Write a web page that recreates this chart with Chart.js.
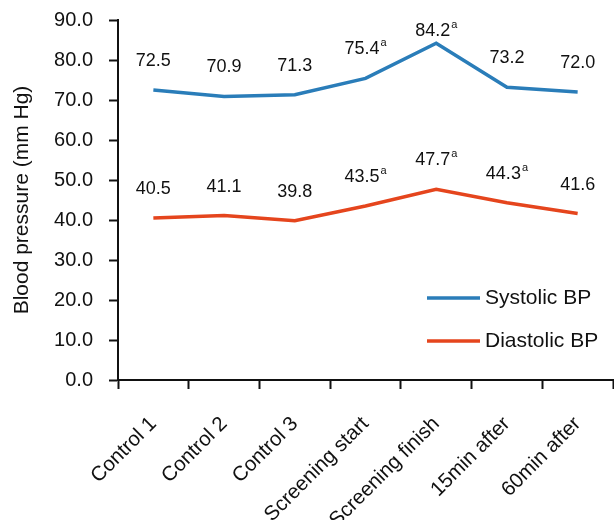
<!DOCTYPE html>
<html>
<head>
<meta charset="utf-8">
<script src="https://cdn.jsdelivr.net/npm/chart.js@4.4.1/dist/chart.umd.min.js"></script>
<style>
  html, body { margin: 0; padding: 0; background: #fff; }
  #wrap { width: 614px; height: 520px; position: relative; }
</style>
</head>
<body>
<div id="wrap"><canvas id="bpChart"></canvas></div>
<script>
// values
const timepoints = ['Control 1', 'Control 2', 'Control 3', 'Screening start', 'Screening finish', '15min after', '60min after'];
const systolic = [72.5, 70.9, 71.3, 75.4, 84.2, 73.2, 72.0];
const diastolic = [40.5, 41.1, 39.8, 43.5, 47.7, 44.3, 41.6];
// "a" superscript marks
const systolicSig = [false, false, false, true, true, false, false];
const diastolicSig = [false, false, false, true, true, true, false];
const yTicks = [0, 10, 20, 30, 40, 50, 60, 70, 80, 90];

const FONT = "'Liberation Sans', Arial, sans-serif";
const BLUE = '#2a7db9';
const RED = '#e5451d';

// value labels above each point, with the superscript "a"
const valueLabels = {
    id: 'valueLabels',
    afterDatasetsDraw(chart) {
        const ctx = chart.ctx;
        const area = chart.chartArea;
        const flags = [systolicSig, diastolicSig];
        ctx.save();
        ctx.fillStyle = '#111';
        ctx.textBaseline = 'middle';
        chart.data.datasets.forEach((ds, i) => {
            const meta = chart.getDatasetMeta(i);
            meta.data.forEach((pt, j) => {
                const txt = ds.data[j].toFixed(1);
                ctx.font = '18px ' + FONT;
                const w = ctx.measureText(txt).width;
                ctx.font = '11px ' + FONT;
                const sw = flags[i][j] ? ctx.measureText('a').width + 1 : 0;
                const y = Math.max(pt.y - 29, area.top + 11);
                const x0 = pt.x - (w + sw) / 2;
                ctx.textAlign = 'left';
                ctx.font = '18px ' + FONT;
                ctx.fillText(txt, x0, y);
                if (flags[i][j]) {
                    ctx.font = '11px ' + FONT;
                    ctx.fillText('a', x0 + w + 1, y - 6);
                }
            });
        });
        ctx.restore();
    }
};

// legend drawn inside the plot, lower right
const insideLegend = {
    id: 'insideLegend',
    afterDatasetsDraw(chart) {
        const ctx = chart.ctx;
        const area = chart.chartArea;
        ctx.save();
        ctx.font = '21px ' + FONT;
        ctx.textAlign = 'left';
        ctx.textBaseline = 'middle';
        chart.data.datasets.forEach((ds, i) => {
            const y = area.bottom - 82 + i * 43;
            ctx.strokeStyle = ds.borderColor;
            ctx.lineWidth = 3.5;
            ctx.beginPath();
            ctx.moveTo(area.right - 186, y);
            ctx.lineTo(area.right - 133, y);
            ctx.stroke();
            ctx.fillStyle = '#111';
            ctx.fillText(ds.label, area.right - 128, y);
        });
        ctx.restore();
    }
};

const bpCtx = document.getElementById('bpChart').getContext('2d');

new Chart(bpCtx, {
    type: 'line',
    data: {
        labels: timepoints,
        datasets: [{
            label: 'Systolic BP',
            data: systolic,
            borderColor: BLUE,
            borderWidth: 3.5,
            pointRadius: 0,
            tension: 0,
            fill: false
        }, {
            label: 'Diastolic BP',
            data: diastolic,
            borderColor: RED,
            borderWidth: 3.5,
            pointRadius: 0,
            tension: 0,
            fill: false
        }]
    },
    options: {
        responsive: true,
        maintainAspectRatio: false,
        animation: false,
        layout: { padding: { top: 20, right: 1, left: 0, bottom: 0 } },
        plugins: {
            legend: { display: false },
            tooltip: { enabled: false }
        },
        scales: {
            x: {
                type: 'category',
                offset: true,
                afterFit: (scale) => {
                    scale.height = 140;
                    scale.paddingLeft = 0;
                    scale.paddingRight = 0;
                },
                grid: {
                    offset: true,
                    drawOnChartArea: false,
                    drawTicks: true,
                    tickLength: 9,
                    tickWidth: 2,
                    tickColor: '#111'
                },
                border: { display: true, color: '#111', width: 2 },
                ticks: {
                    color: '#111',
                    font: { family: FONT, size: 20.5 },
                    maxRotation: 45,
                    minRotation: 45,
                    autoSkip: false,
                    padding: 23
                }
            },
            y: {
                min: 0,
                max: 90,
                afterFit: (scale) => {
                    scale.width = 118;
                    scale.paddingTop = 0;
                },
                afterBuildTicks: (scale) => { scale.ticks = yTicks.map(v => ({ value: v })); },
                title: {
                    display: true,
                    text: 'Blood pressure (mm Hg)',
                    color: '#111',
                    font: { family: FONT, size: 21 },
                    padding: { top: 10, bottom: 0 }
                },
                grid: {
                    drawOnChartArea: false,
                    drawTicks: true,
                    tickLength: 9,
                    tickWidth: 2,
                    tickColor: '#111'
                },
                border: { display: true, color: '#111', width: 2 },
                ticks: {
                    color: '#111',
                    font: { family: FONT, size: 20 },
                    padding: 16,
                    callback: (v) => Number(v).toFixed(1)
                }
            }
        }
    },
    plugins: [valueLabels, insideLegend]
});
</script>
</body>
</html>
